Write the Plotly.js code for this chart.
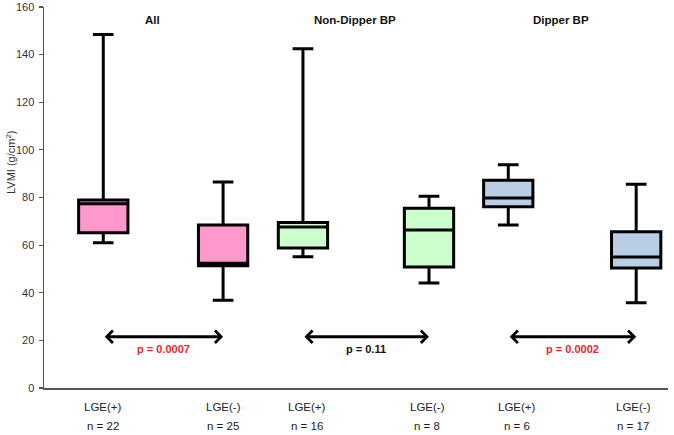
<!DOCTYPE html>
<html>
<head>
<meta charset="utf-8">
<script src="https://cdn.plot.ly/plotly-3.0.1.min.js"></script>
<style>html,body{margin:0;padding:0;background:#fff}#chart{width:674px;height:435px}</style>
</head>
<body>
<div id="chart"></div>
<script>
// ---- data ----
const groups = ["All", "Non-Dipper BP", "Dipper BP"];
const categories = ["LGE(+)", "LGE(-)", "LGE(+)", "LGE(-)", "LGE(+)", "LGE(-)"];
const nLabels = ["n = 22", "n = 25", "n = 16", "n = 8", "n = 6", "n = 17"];
const upperFence = [148.5, 86.5, 142.5, 80.5, 93.8, 85.6];
const q3Vals     = [79.0, 68.5, 69.5, 75.5, 87.2, 65.6];
const medianVals = [77.4, 52.4, 67.6, 66.4, 79.8, 55.0];
const q1Vals     = [65.2, 51.3, 58.8, 50.8, 76.1, 50.4];
const lowerFence = [61.0, 36.8, 55.1, 44.1, 68.5, 35.8];
const pValues = ["p = 0.0007", "p = 0.11", "p = 0.0002"];

// ---- layout helpers (positions/styles) ----
const boxPos = [0.95, 2.87, 4.15, 6.17, 7.44, 9.49];
const labelShift = [0, 0, 4, -2, 9, -3];
const fills = ["#ff99cc", "#ff99cc", "#ccffcc", "#ccffcc", "#b9cde5", "#b9cde5"];
const pColors = ["#e8262b", "#111111", "#e8262b"];
const FONT = "Liberation Sans, Arial, sans-serif";

const traces = categories.map((c, i) => ({
  type: "box",
  x: [boxPos[i]],
  q1: [q1Vals[i]],
  median: [medianVals[i]],
  q3: [q3Vals[i]],
  lowerfence: [lowerFence[i]],
  upperfence: [upperFence[i]],
  width: 0.79,
  whiskerwidth: 0.42,
  fillcolor: fills[i],
  line: {color: "#000000", width: 3},
  boxpoints: false,
  hoverinfo: "skip",
  showlegend: false
}));

const annotations = [];
groups.forEach((g, k) => {
  const a = boxPos[2 * k], b = boxPos[2 * k + 1];
  const mid = (a + b) / 2;
  annotations.push({
    x: mid, y: 154.6, xref: "x", yref: "y", text: "<b>" + g + "</b>",
    showarrow: false, xshift: -11, font: {family: FONT, size: 11.5, color: "#111"}
  });
  annotations.push({
    x: b, y: 21.5, ax: a, ay: 21.5, xref: "x", yref: "y", axref: "x", ayref: "y",
    text: "", showarrow: true, arrowside: "end+start", arrowhead: 4, startarrowhead: 4,
    arrowsize: 0.8, startarrowsize: 0.8, arrowwidth: 3, arrowcolor: "#000",
    standoff: 0, startstandoff: 0
  });
  annotations.push({
    x: mid, y: 16.4, xref: "x", yref: "y", text: "<b>" + pValues[k] + "</b>",
    showarrow: false, font: {family: FONT, size: 11, color: pColors[k]}
  });
});
categories.forEach((c, i) => {
  annotations.push({
    x: boxPos[i], y: -0.05, xref: "x", yref: "paper", text: c, showarrow: false,
    xanchor: "center", yanchor: "middle",
    xshift: labelShift[i], font: {family: FONT, size: 11.5, color: "#222"}
  });
  annotations.push({
    x: boxPos[i], y: -0.1, xref: "x", yref: "paper", text: nLabels[i], showarrow: false,
    xanchor: "center", yanchor: "middle",
    xshift: labelShift[i], font: {family: FONT, size: 11.5, color: "#222"}
  });
});
annotations.push({
  x: -0.053, y: 0.593, xref: "paper", yref: "paper", text: "LVMI (g/cm<sup>2</sup>)",
  xanchor: "center", yanchor: "middle",
  textangle: -90, showarrow: false, font: {family: FONT, size: 11, color: "#333"}
});

const layout = {
  width: 674, height: 435,
  margin: {l: 44, r: 6, t: 7, b: 47},
  paper_bgcolor: "#fff", plot_bgcolor: "#fff",
  font: {family: FONT, color: "#333"},
  xaxis: {range: [0, 10], showgrid: false, zeroline: false, showticklabels: false,
          ticks: "", showline: true, linecolor: "#555", linewidth: 1.5, fixedrange: true},
  yaxis: {range: [0, 160], tickvals: [0, 20, 40, 60, 80, 100, 120, 140, 160],
          showgrid: false, zeroline: false, showline: true, linecolor: "#555", linewidth: 1.5,
          ticks: "outside", ticklen: 4, tickcolor: "#555", tickwidth: 1.2, ticklabelstandoff: 2,
          tickfont: {family: FONT, size: 11, color: "#333"}, fixedrange: true},
  annotations: annotations,
  showlegend: false
};

Plotly.newPlot("chart", traces, layout, {displayModeBar: false, staticPlot: true});
</script>
</body>
</html>
